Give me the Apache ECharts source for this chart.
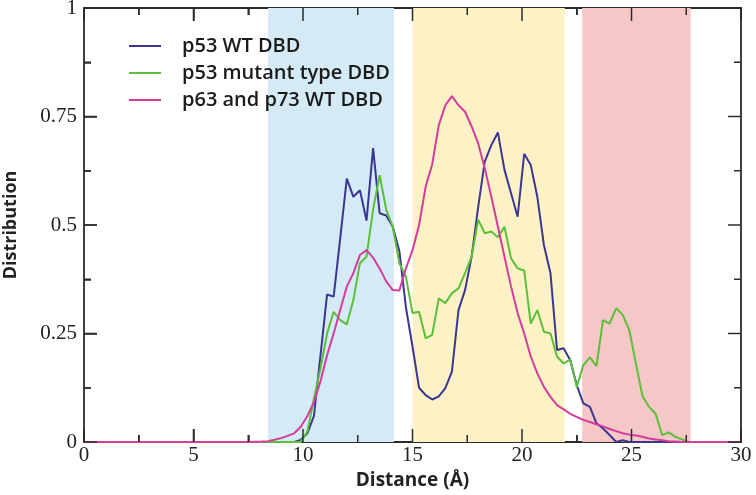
<!DOCTYPE html>
<html>
<head>
<meta charset="utf-8">
<script src="https://cdn.jsdelivr.net/npm/echarts@6/dist/echarts.min.js"></script>
<style>html,body{margin:0;padding:0;background:#fff;}#c{width:756px;height:495px;}</style>
</head>
<body>
<div id="c"></div>
<script>
const seriesNames = ['p53 WT DBD', 'p53 mutant type DBD', 'p63 and p73 WT DBD'];
const xTickLabels = ['0', '5', '10', '15', '20', '25', '30'];
const yTickLabels = ['0', '0.25', '0.5', '0.75', '1'];
const xMajorTicks = [0, 5, 10, 15, 20, 25, 30];
const xMinorTicks = [2.5, 7.5, 12.5, 17.5, 22.5, 27.5];
const yMajorTicks = [0, 0.25, 0.5, 0.75, 1];
const yMinorTicks = [0.125, 0.375, 0.625, 0.875];

const wtX = [0, 9.6, 9.9, 10.2, 10.5, 10.8, 11.1, 11.4, 11.7, 12.0, 12.3, 12.6, 12.9, 13.2, 13.5, 13.8, 14.1, 14.4, 14.7, 15.0, 15.3, 15.6, 15.9, 16.2, 16.5, 16.8, 17.1, 17.4, 17.7, 18.0, 18.3, 18.6, 18.9, 19.2, 19.5, 19.8, 20.1, 20.4, 20.7, 21.0, 21.3, 21.6, 21.9, 22.2, 22.5, 22.8, 23.1, 23.4, 23.7, 24.0, 24.3, 24.6, 24.9, 30];
const wtY = [0, 0, 0.005, 0.02, 0.06, 0.2, 0.34, 0.335, 0.47, 0.607, 0.565, 0.58, 0.51, 0.677, 0.527, 0.522, 0.496, 0.44, 0.31, 0.22, 0.125, 0.108, 0.098, 0.105, 0.124, 0.162, 0.304, 0.35, 0.427, 0.542, 0.646, 0.684, 0.713, 0.627, 0.573, 0.519, 0.664, 0.638, 0.565, 0.454, 0.389, 0.212, 0.216, 0.189, 0.131, 0.089, 0.081, 0.043, 0.031, 0.016, 0.0, 0.004, 0, 0];

const mutX = [0, 9.9, 10.2, 10.5, 10.8, 11.1, 11.4, 11.7, 12.0, 12.3, 12.6, 12.9, 13.2, 13.5, 13.8, 14.1, 14.4, 14.7, 15.0, 15.3, 15.6, 15.9, 16.2, 16.5, 16.8, 17.1, 17.4, 17.7, 18.0, 18.3, 18.6, 18.9, 19.2, 19.5, 19.8, 20.1, 20.4, 20.7, 21.0, 21.3, 21.6, 21.9, 22.2, 22.5, 22.8, 23.1, 23.4, 23.7, 24.0, 24.3, 24.6, 24.9, 25.2, 25.5, 25.8, 26.1, 26.4, 26.7, 27.0, 27.3, 27.6, 30];
const mutY = [0, 0, 0.024, 0.1, 0.17, 0.25, 0.3, 0.281, 0.271, 0.327, 0.412, 0.427, 0.535, 0.615, 0.535, 0.496, 0.412, 0.381, 0.297, 0.3, 0.239, 0.247, 0.331, 0.32, 0.343, 0.354, 0.389, 0.427, 0.512, 0.481, 0.485, 0.472, 0.496, 0.423, 0.4, 0.395, 0.273, 0.304, 0.254, 0.25, 0.197, 0.181, 0.19, 0.127, 0.177, 0.195, 0.175, 0.281, 0.273, 0.308, 0.293, 0.258, 0.181, 0.106, 0.081, 0.065, 0.016, 0.022, 0.012, 0.006, 0, 0];

const p63X = [0, 7.5, 8.1, 8.4, 8.7, 9.0, 9.3, 9.6, 9.9, 10.2, 10.5, 10.8, 11.1, 11.4, 11.7, 12.0, 12.3, 12.6, 12.9, 13.2, 13.5, 13.8, 14.1, 14.4, 14.7, 15.0, 15.3, 15.6, 15.9, 16.2, 16.5, 16.8, 17.1, 17.4, 17.7, 18.0, 18.3, 18.6, 18.9, 19.2, 19.5, 19.8, 20.1, 20.4, 20.7, 21.0, 21.3, 21.6, 21.9, 22.2, 22.5, 22.8, 23.1, 23.4, 23.7, 24.0, 24.3, 24.6, 24.9, 25.2, 25.5, 25.8, 26.1, 26.4, 26.7, 27.0, 27.3, 30];
const p63Y = [0, 0, 0.001, 0.002, 0.005, 0.009, 0.014, 0.02, 0.035, 0.06, 0.092, 0.14, 0.2, 0.25, 0.304, 0.358, 0.389, 0.431, 0.442, 0.425, 0.4, 0.37, 0.35, 0.349, 0.4, 0.442, 0.5, 0.588, 0.64, 0.73, 0.776, 0.797, 0.776, 0.761, 0.727, 0.688, 0.631, 0.565, 0.496, 0.427, 0.358, 0.297, 0.25, 0.197, 0.158, 0.127, 0.104, 0.085, 0.075, 0.065, 0.058, 0.051, 0.046, 0.041, 0.036, 0.03, 0.025, 0.02, 0.017, 0.015, 0.012, 0.008, 0.006, 0.004, 0.002, 0.001, 0, 0];

const bandStarts = [8.4, 15.0, 22.75];
const bandEnds = [14.15, 21.95, 27.7];
const bandColors = ['#d4eaf4', '#fdf2c6', '#f5c7c7'];
const lineColors = ['#3b3594', '#5cbf3a', '#d43c9e'];

function pairs(xs, ys) { return xs.map((x, i) => [x, ys[i]]); }

const X_MIN = 0, X_MAX = 30, Y_MIN = 0, Y_MAX = 1;
const chart = echarts.init(document.getElementById('c'));
const axisColor = '#2b2b2b';
const labelFont = { fontFamily: 'Liberation Serif', fontSize: 21, color: '#222' };
const titleFont = { fontFamily: 'Open Sans', fontWeight: 'bold', color: '#222' };
const lineSt = { color: axisColor, width: 1.8 };
const tickSt = { color: axisColor, width: 1.5 };
const ticks = {
  axisTick: { show: true, inside: true, length: 13, lineStyle: tickSt },
  minorTick: { show: true, splitNumber: 2, length: 7, lineStyle: tickSt }
};

const xAxes = [
  Object.assign({
    type: 'value', min: X_MIN, max: X_MAX, interval: 5,
    axisLine: { show: true, lineStyle: lineSt },
    splitLine: { show: false },
    axisLabel: Object.assign({ margin: 3, formatter: (v) => xTickLabels[Math.round(v / 5)] }, labelFont),
    name: 'Distance (Å)', nameLocation: 'middle', nameGap: 29,
    nameTextStyle: Object.assign({ fontSize: 19 }, titleFont)
  }, ticks),
  Object.assign({
    type: 'value', position: 'top', min: X_MIN, max: X_MAX, interval: 5,
    axisLine: { show: true, onZero: false, lineStyle: lineSt },
    splitLine: { show: false }, axisLabel: { show: false }
  }, ticks)
];
const yAxes = [
  Object.assign({
    type: 'value', min: Y_MIN, max: Y_MAX, interval: 0.25,
    axisLine: { show: true, lineStyle: lineSt },
    splitLine: { show: false },
    axisLabel: Object.assign({ margin: 7, formatter: (v) => yTickLabels[Math.round(v / 0.25)] }, labelFont),
    name: 'Distribution', nameLocation: 'middle', nameGap: 64, nameRotate: 90,
    nameTextStyle: Object.assign({ fontSize: 18 }, titleFont)
  }, ticks),
  {
    type: 'value', position: 'right', min: Y_MIN, max: Y_MAX, interval: 0.25,
    axisLine: { show: true, onZero: false, lineStyle: lineSt },
    axisTick: { show: false }, minorTick: { show: false },
    splitLine: { show: false }, axisLabel: { show: false }
  }
];

function bandRender(params, api) {
  const a = api.coord([api.value(0), Y_MAX]);
  const b = api.coord([api.value(1), Y_MIN]);
  return { type: 'rect', shape: { x: a[0], y: a[1], width: b[0] - a[0], height: b[1] - a[1] },
           style: { fill: bandColors[api.value(2)] } };
}

const allX = [wtX, mutX, p63X];
const allY = [wtY, mutY, p63Y];

const series = [
  { type: 'custom', xAxisIndex: 0, yAxisIndex: 0, silent: true, z: 1,
    data: bandStarts.map((s, i) => [s, bandEnds[i], i]), renderItem: bandRender }
].concat(seriesNames.map((n, i) => ({
  name: n, type: 'line', xAxisIndex: 0, yAxisIndex: 0,
  data: pairs(allX[i], allY[i]),
  showSymbol: false, symbol: 'none',
  lineStyle: { color: lineColors[i], width: 2 },
  itemStyle: { color: lineColors[i] },
  z: 3
})));

chart.setOption({
  animation: false,
  grid: { left: 84, right: 15, top: 8, bottom: 53, outerBoundsMode: 'none' },
  xAxis: xAxes,
  yAxis: yAxes,
  legend: {
    orient: 'vertical', left: 124, top: 31,
    itemWidth: 32, itemHeight: 14, itemGap: 7,
    icon: 'path://M0,6 L32,6 L32,8 L0,8 Z',
    textStyle: { fontFamily: 'Open Sans', fontWeight: 600, fontSize: 20, color: '#1a1a1a', lineHeight: 20, padding: [0, 0, 0, 16] },
    data: seriesNames
  },
  series: series
});

// tick marks on all four sides, placed through the chart's own scales
try {
  const g = [];
  const px = (x, y) => chart.convertToPixel({ seriesIndex: 1 }, [x, y]);
  const add = (p, dx, dy) => g.push({
    type: 'line', silent: true, z: 100,
    shape: { x1: p[0], y1: p[1], x2: p[0] + dx, y2: p[1] + dy },
    style: { stroke: axisColor, lineWidth: 1.5 }
  });
  xMajorTicks.forEach(v => { add(px(v, Y_MIN), 0, -13); add(px(v, Y_MAX), 0, 13); });
  xMinorTicks.forEach(v => { add(px(v, Y_MIN), 0, -7); add(px(v, Y_MAX), 0, 7); });
  yMajorTicks.forEach(v => { add(px(X_MIN, v), 13, 0); add(px(X_MAX, v), -13, 0); });
  yMinorTicks.forEach(v => { add(px(X_MIN, v), 7, 0); add(px(X_MAX, v), -7, 0); });
  chart.setOption({ graphic: { elements: g } });
} catch (e) {}
</script>
</body>
</html>
